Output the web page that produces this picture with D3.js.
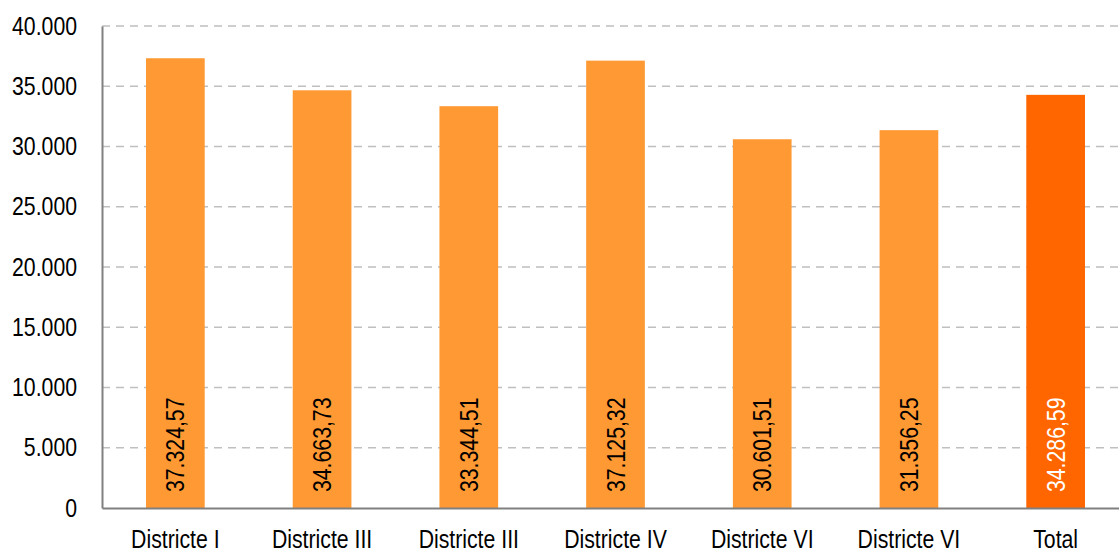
<!DOCTYPE html>
<html><head><meta charset="utf-8">
<script src="https://cdn.jsdelivr.net/npm/d3@7/dist/d3.min.js"></script>
<style>
html,body{margin:0;padding:0;background:#fff;overflow:hidden}
text{font-family:"Liberation Sans Narrow","Liberation Sans",Arial,sans-serif;}
</style></head>
<body><svg id="c" width="1119" height="553"></svg>
<script>
const categories = ["Districte I","Districte III","Districte III","Districte IV","Districte VI","Districte VI","Total"];
const values = [37324.57, 34663.73, 33344.51, 37125.32, 30601.51, 31356.25, 34286.59];
const valueLabels = ["37.324,57","34.663,73","33.344,51","37.125,32","30.601,51","31.356,25","34.286,59"];
const yTicks = [0,5000,10000,15000,20000,25000,30000,35000,40000];
const yTickLabels = ["0","5.000","10.000","15.000","20.000","25.000","30.000","35.000","40.000"];

const svg = d3.select("#c");
const pLeft = 102, pRight = 1129, pTop = 26, pBottom = 508;
const FS = 25, SX = 0.85;
const x = d3.scaleBand().domain(d3.range(categories.length)).range([pLeft, pRight]).paddingInner(0.6).paddingOuter(0.3);
const y = d3.scaleLinear().domain([0, 40000]).range([pBottom, pTop]);

// grid
svg.append("g").selectAll("line").data(yTicks.filter(d => d > 0)).join("line")
  .attr("x1", pLeft).attr("x2", 1119).attr("y1", d => y(d)).attr("y2", d => y(d))
  .attr("stroke", "#BFBFBF").attr("stroke-width", 1.5).attr("stroke-dasharray", "8,6");

// bars
svg.append("g").selectAll("rect").data(values).join("rect")
  .attr("x", (d, i) => x(i)).attr("width", x.bandwidth())
  .attr("y", d => y(d)).attr("height", d => pBottom - y(d))
  .attr("fill", (d, i) => i === values.length - 1 ? "#FF6600" : "#FF9933");

// value labels
svg.append("g").selectAll("text").data(values).join("text")
  .attr("transform", (d, i) => `translate(${x(i) + x.bandwidth() / 2 + 9},${pBottom - 16}) rotate(-90) scale(${SX},1)`)
  .attr("text-anchor", "start")
  .attr("font-size", FS)
  .attr("fill", (d, i) => i === values.length - 1 ? "#FFFFFF" : "#000000")
  .text((d, i) => valueLabels[i]);

// y axis
const yAxis = d3.axisLeft(y).tickValues(yTicks).tickSize(0).tickPadding(25)
  .tickFormat((d, i) => yTickLabels[i]);
const gy = svg.append("g").attr("transform", `translate(${pLeft},0)`).call(yAxis);
gy.select(".domain").attr("stroke", "#808080").attr("stroke-width", 2);
gy.selectAll("text").attr("font-size", FS).attr("fill", "#000")
  .attr("x", -25 / SX).attr("transform", `scale(${SX},1)`);

// x axis
const xAxis = d3.axisBottom(x).tickSize(0).tickPadding(22).tickFormat(i => categories[i]);
const gx = svg.append("g").attr("transform", `translate(0,${pBottom})`).call(xAxis);
gx.select(".domain").attr("stroke", "#808080").attr("stroke-width", 2);
gx.selectAll("text").attr("font-size", FS).attr("fill", "#000").attr("transform", `scale(${SX},1)`);
</script></body></html>
